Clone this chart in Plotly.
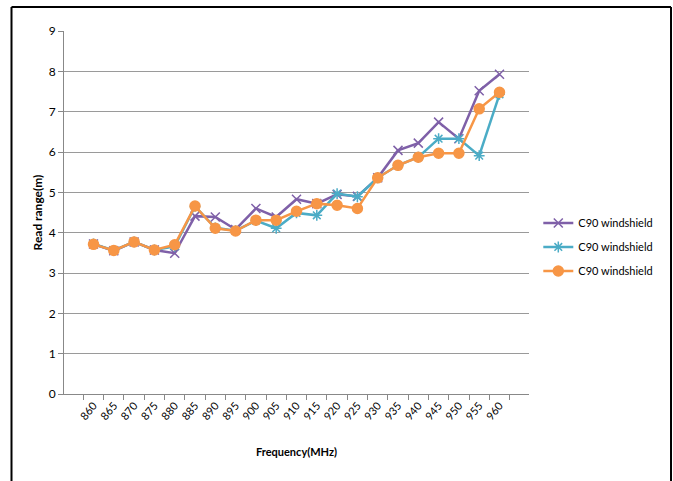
import plotly.graph_objects as go

freqs = ["860", "865", "870", "875", "880", "885", "890", "895", "900", "905", "910",
         "915", "920", "925", "930", "935", "940", "945", "950", "955", "960"]

series_purple = [3.72, 3.55, 3.77, 3.57, 3.49, 4.41, 4.39, 4.08, 4.60, 4.39, 4.83,
                 4.72, 4.95, 4.90, 5.36, 6.04, 6.22, 6.74, 6.33, 7.52, 7.93]
series_cyan = [3.72, 3.56, 3.77, 3.57, 3.66, 4.65, 4.12, 4.05, 4.30, 4.11, 4.49,
               4.43, 4.97, 4.89, 5.36, 5.67, 5.87, 6.33, 6.33, 5.91, 7.43]
series_orange = [3.71, 3.56, 3.77, 3.57, 3.70, 4.66, 4.11, 4.04, 4.31, 4.31, 4.53,
                 4.72, 4.68, 4.60, 5.36, 5.67, 5.87, 5.97, 5.97, 7.07, 7.48]

names = ["C90 windshield", "C90 windshield", "C90 windshield"]
colors = ["#7F60A8", "#4BACC6", "#F79646"]
symbols = ["x-thin-open", "asterisk-open", "circle"]
sizes = [9, 9, 10]

fig = go.Figure()
for i, (vals, name, col, sym, sz) in enumerate(zip([series_purple, series_cyan, series_orange], names, colors, symbols, sizes)):
    fig.add_trace(go.Scatter(
        x=freqs, y=vals, name=name, mode="lines+markers", legendgroup=f"g{i}",
        line=dict(color=col, width=2.5),
        marker=dict(symbol=sym, size=sz, color=col, line=dict(color=col, width=1.5)),
    ))

fig.update_layout(
    width=673, height=481,
    margin=dict(l=64, r=144, t=31, b=87),
    paper_bgcolor="white", plot_bgcolor="white",
    font=dict(family="Lato, Open Sans, sans-serif", size=11, color="#000"),
    showlegend=True,
    legend=dict(x=1.02, y=0.405, xanchor="left", yanchor="middle",
                font=dict(size=11), bgcolor="rgba(0,0,0,0)",
                tracegroupgap=5),
    xaxis=dict(
        type="category", tickangle=-50, tickson="boundaries",
        ticks="outside", ticklen=5, tickcolor="#888",
        showline=True, linecolor="#888", linewidth=1,
        showgrid=False, zeroline=False,
        tickfont=dict(size=11, color="#000"),
        title=dict(text="<b>Frequency(MHz)</b>", font=dict(size=11), standoff=27),
    ),
    yaxis=dict(
        range=[0, 9], dtick=1, tick0=0,
        ticks="outside", ticklen=5, tickcolor="#888",
        showline=True, linecolor="#888", linewidth=1,
        showgrid=True, gridcolor="#9a9a9a", gridwidth=1,
        zeroline=False,
        tickfont=dict(size=12, color="#000"),
        title=dict(text="<b>Read range(m)</b>", font=dict(size=12), standoff=3),
    ),
    shapes=[
        dict(type="line", xref="paper", yref="paper", x0=-0.1129, x1=1.3054, y0=1.066, y1=1.066,
             line=dict(color="black", width=2)),
        dict(type="line", xref="paper", yref="paper", x0=-0.1129, x1=-0.1129, y0=1.066, y1=-0.3,
             line=dict(color="black", width=2)),
        dict(type="line", xref="paper", yref="paper", x0=1.3054, x1=1.3054, y0=1.066, y1=-0.3,
             line=dict(color="black", width=2)),
    ],
)

fig.write_html("out.html", config={"displayModeBar": False},
               post_script="document.body.style.margin='0';document.body.style.overflow='hidden';")
